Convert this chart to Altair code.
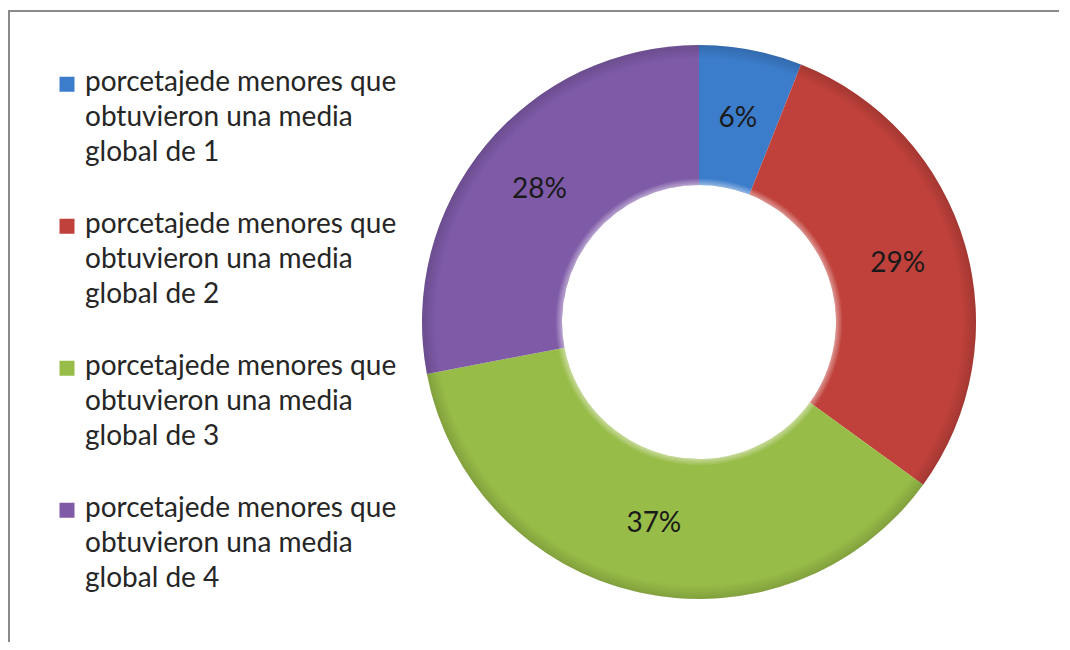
import altair as alt
import pandas as pd

categories = [
    "porcetajede menores que|obtuvieron una media|global de 1",
    "porcetajede menores que|obtuvieron una media|global de 2",
    "porcetajede menores que|obtuvieron una media|global de 3",
    "porcetajede menores que|obtuvieron una media|global de 4",
]
values = [6, 29, 37, 28]
labels = ["6%", "29%", "37%", "28%"]
order = [1, 2, 3, 4]
colors = ["#3c7dcb", "#c0413b", "#98bc48", "#7e5aa7"]

df = pd.DataFrame({"cat": categories, "value": values, "label": labels, "order": order})

W = 560
H = 560

base = alt.Chart(df).encode(
    theta=alt.Theta("value:Q", stack=True),
    order=alt.Order("order:Q"),
)

arc = base.mark_arc(innerRadius=137, outerRadius=277).encode(
    color=alt.Color(
        "cat:N",
        scale=alt.Scale(domain=categories, range=colors),
        legend=alt.Legend(
            title=None,
            orient="none",
            legendX=-366,
            legendY=35,
            labelExpr="split(datum.label, '|')",
            labelFont="Lato",
            labelFontSize=28,
            labelColor="#262626",
            labelLimit=500,
            labelOffset=4,
            labelBaseline="alphabetic",
            symbolType="M-1,-1.9H1V0.1H-1Z",
            symbolSize=225,
            symbolStrokeWidth=0,
            symbolOpacity=1,
            rowPadding=44,
        ),
    )
)

# subtle bevel shading over the ring
shade_grad = {
    "gradient": "radial",
    "x1": 0.5, "y1": 0.5, "r1": 0.247,
    "x2": 0.5, "y2": 0.5, "r2": 0.5,
    "stops": [
        {"offset": 0.0, "color": "rgba(255,255,255,0.45)"},
        {"offset": 0.05, "color": "rgba(255,255,255,0.0)"},
        {"offset": 0.9, "color": "rgba(0,0,0,0.0)"},
        {"offset": 1.0, "color": "rgba(0,0,0,0.15)"},
    ],
}
frame = pd.DataFrame({"k": [0]})
shade = alt.Chart(frame).mark_arc(
    innerRadius=137, outerRadius=277, fill=shade_grad
).encode(theta=alt.value(0), theta2=alt.value(6.2832))

text = base.mark_text(radius=207, fontSize=28, font="Lato", color="#1a1a1a").encode(
    text="label:N"
)

top_rule = alt.Chart(frame).mark_rule(color="#8a8a8a", strokeWidth=2).encode(
    x=alt.value(-410), x2=alt.value(650), y=alt.value(-31)
)
left_rule = alt.Chart(frame).mark_rule(color="#8a8a8a", strokeWidth=2).encode(
    x=alt.value(-410), y=alt.value(-32), y2=alt.value(640)
)

chart = (
    alt.layer(top_rule, left_rule, arc, shade, text)
    .properties(
        width=W,
        height=H,
        autosize=alt.AutoSizeParams(type="none"),
        padding={"left": 411, "top": 34, "right": 80, "bottom": 40},
    )
    .configure(style={"guide-label": {"lineHeight": 35}})
    .configure_view(strokeWidth=0)
)

chart.save("out.html", embed_options={"renderer": "svg", "actions": False})
